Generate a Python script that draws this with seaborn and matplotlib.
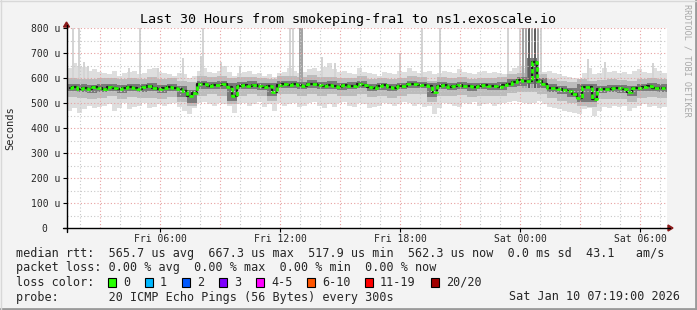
import numpy as np
import pandas as pd
import matplotlib
matplotlib.use("Agg")
import matplotlib.pyplot as plt
import seaborn as sns
from matplotlib.patches import Rectangle, Polygon
from matplotlib.lines import Line2D
from matplotlib.ticker import FixedLocator

# ---------------- data ----------------
title = "Last 30 Hours from smokeping-fra1 to ns1.exoscale.io"
start_hour = 1.35          # Fri 01:21 (hours since Fri 00:00)
span_hours = 30
step_fine = 0.25           # 15 min
step_coarse = 0.5          # 30 min

median_us = [
    562, 566, 558, 560, 555, 563, 560,
    558, 565, 562, 556, 560, 566, 562,
    558, 563, 568, 560, 556, 562,
    566, 560, 558, 548, 530,
    540, 578, 575, 570, 574,
    572, 575, 566, 528, 568,
    572, 570, 574, 568, 565,
    570, 545, 572, 575, 574,
    576, 572, 570, 575, 578,
    572, 568, 574, 570, 566,
    572, 570, 568, 576, 572,
    566, 562, 568, 572, 566,
    562, 570, 568, 578, 576,
    572, 574, 570, 545, 568,
    572, 566, 570, 574, 570,
    568, 566, 570, 572, 568,
    570, 566, 572, 576, 585,
    592, 588, 590, 665, 590,
    575, 560, 562, 556, 552,
    550, 538, 522, 566, 565,
    518, 556, 555, 558, 560,
    562, 558, 545, 560, 562,
    565, 568, 562, 560, 562,
]

smoke_max = [
    640, 660, 650, 645, 630, 635, 625,
    620, 615, 630, 610, 620, 625, 630,
    615, 620, 635, 640, 625, 620,
    615, 610, 620, 615, 600,
    610, 630, 640, 625, 620,
    630, 650, 625, 610, 620,
    625, 630, 615, 620, 610,
    615, 605, 620, 625, 640,
    630, 620, 625, 635, 640,
    630, 645, 660, 635, 625,
    630, 620, 615, 640, 625,
    620, 615, 610, 625, 620,
    615, 630, 625, 640, 630,
    620, 625, 630, 615, 620,
    630, 625, 620, 635, 625,
    620, 615, 625, 630, 620,
    625, 620, 615, 630, 640,
    650, 640, 645, 660, 640,
    625, 630, 620, 615, 610,
    605, 600, 595, 620, 640,
    615, 620, 640, 625, 630,
    620, 625, 615, 630, 635,
    625, 620, 640, 630, 620,
]

smoke_min = [
    470, 480, 460, 475, 490, 480, 485,
    490, 495, 470, 480, 500, 475, 485,
    490, 500, 480, 485, 495, 490,
    495, 500, 485, 470, 455,
    480, 500, 505, 495, 490,
    500, 495, 490, 460, 495,
    500, 490, 495, 505, 485,
    495, 470, 500, 490, 495,
    500, 485, 490, 500, 505,
    490, 480, 495, 485, 500,
    505, 490, 485, 500, 495,
    480, 485, 490, 500, 495,
    490, 495, 505, 500, 490,
    495, 485, 490, 455, 480,
    500, 495, 490, 485, 500,
    495, 505, 490, 495, 500,
    490, 495, 500, 505, 510,
    505, 500, 495, 500, 510,
    495, 485, 480, 475, 470,
    465, 460, 455, 475, 480,
    450, 470, 485, 480, 490,
    485, 490, 470, 480, 490,
    495, 485, 490, 480, 485,
]

mid_lo = [
    525, 520, 518, 522, 528, 515, 525, 520, 522, 515, 525, 505,
    490, 530, 535, 530, 495, 530, 535, 528, 510, 535, 535, 530, 538, 530, 535, 528, 530, 535,
    525, 528, 522, 530, 535, 535, 505, 530, 528, 532, 525, 530, 528, 530, 540, 545, 545, 535,
    520, 510, 500, 490, 485, 515, 518, 515, 505, 520, 525, 520,
]
mid_hi = [
    600, 598, 595, 600, 602, 595, 600, 598, 605, 596, 600, 590,
    585, 610, 605, 608, 600, 605, 606, 600, 595, 608, 610, 605, 612, 605, 606, 600, 602, 610,
    598, 600, 598, 602, 610, 606, 590, 604, 600, 606, 598, 602, 600, 604, 615, 620, 640, 615,
    595, 590, 585, 595, 590, 592, 595, 594, 590, 598, 600, 596,
]
dark_lo = [
    548, 545, 542, 545, 550, 540, 550, 545, 548, 540, 548, 525,
    500, 555, 558, 558, 510, 555, 558, 552, 530, 560, 560, 556, 562, 555, 558, 552, 555, 560,
    550, 552, 548, 555, 560, 560, 525, 555, 552, 558, 550, 555, 552, 553, 565, 570, 575, 560,
    545, 535, 525, 505, 505, 540, 545, 542, 530, 548, 550, 546,
]
dark_hi = [
    578, 575, 572, 575, 578, 572, 578, 575, 580, 572, 578, 568,
    552, 590, 585, 588, 580, 585, 588, 582, 580, 588, 590, 585, 592, 586, 588, 582, 584, 590,
    578, 580, 578, 582, 590, 586, 580, 584, 582, 586, 580, 582, 580, 584, 595, 605, 680, 600,
    575, 570, 560, 578, 575, 570, 572, 574, 570, 578, 580, 575,
]

spike_hour = [1.65, 1.95, 2.2, 2.4, 4.45, 5.0, 5.9, 7.15, 8.05, 8.15, 9.05, 10.0,
              12.5, 12.65, 13.0, 13.1, 14.1, 14.75, 18.0, 19.1, 20.0, 23.4,
              24.0, 24.15, 24.3, 24.45, 24.6, 24.75, 24.9, 25.05,
              27.4, 28.25, 30.65]
spike_top = [800, 800, 665, 650, 640, 800, 640, 680, 690, 800, 665, 650,
             800, 800, 800, 800, 685, 660, 700, 800, 800, 800,
             800, 800, 800, 800, 800, 800, 800, 800,
             675, 665, 660]
spike_shade = ["l", "l", "l", "l", "l", "l", "l", "l", "l", "l", "l", "l",
               "l", "l", "m", "m", "l", "l", "l", "l", "l", "l",
               "l", "m", "m", "d", "m", "d", "m", "l",
               "l", "l", "l"]

y_major = [0, 100, 200, 300, 400, 500, 600, 700, 800]
y_labels = ["0  ", "100 u", "200 u", "300 u", "400 u", "500 u", "600 u", "700 u", "800 u"]
x_label_hours = [6, 12, 18, 24, 30]
x_labels = ["Fri 06:00", "Fri 12:00", "Fri 18:00", "Sat 00:00", "Sat 06:00"]

loss_labels = ["0", "1", "2", "3", "4-5", "6-10", "11-19", "20/20"]
loss_colors = ["#26ff00", "#00b8ff", "#0059ff", "#7e00ff", "#ff00ff", "#ff5500", "#ff0000", "#a10000"]

legend_rtt = "median rtt:  565.7 us avg  667.3 us max  517.9 us min  562.3 us now  0.0 ms sd  43.1   am/s"
legend_loss = "packet loss: 0.00 % avg  0.00 % max  0.00 % min  0.00 % now"
legend_probe = "probe:       20 ICMP Echo Pings (56 Bytes) every 300s"
stamp = "Sat Jan 10 07:19:00 2026"

# ---------------- figure ----------------
sns.set_theme(style="white")
plt.rcParams['font.family'] = ['DejaVu Sans Mono', 'DejaVu Sans']

W, H = 697, 310
fig = plt.figure(figsize=(W / 100, H / 100), dpi=100)
fig.patch.set_facecolor("#f3f3f3")

def fx(x):
    return x / W

def fy(y):
    return 1 - y / H

L, R, T, B = 67, 667, 28, 228
ax = fig.add_axes([fx(L), fy(B), (R - L) / W, (B - T) / H])
ax.set_facecolor("white")

n_f = len(median_us)
n_c = len(mid_lo)
edges_f = start_hour + np.arange(n_f + 1) * step_fine
edges_c = start_hour + np.arange(n_c + 1) * step_coarse
t_f = start_hour + (np.arange(n_f) + 0.5) * step_fine

ax.stairs(smoke_max, edges_f, baseline=smoke_min, fill=True, color="#dedede", zorder=2, lw=0)
shade_col = {"l": "#d4d4d4", "m": "#a4a4a4", "d": "#5e5e5e"}
shade_z = {"l": 2.5, "m": 3.5, "d": 4.5}
for h, top, s in zip(spike_hour, spike_top, spike_shade):
    ax.bar(h, top - 560, bottom=560, width=0.09, color=shade_col[s], zorder=shade_z[s], lw=0)
ax.stairs(mid_hi, edges_c, baseline=mid_lo, fill=True, color="#bcbcbc", zorder=3, lw=0)
ax.stairs(dark_hi, edges_c, baseline=dark_lo, fill=True, color="#7a7a7a", zorder=4, lw=0)

df = pd.DataFrame({"t": t_f, "median": median_us})
sns.lineplot(data=df, x="t", y="median", ax=ax, color="#1c1c1c", lw=1.6,
             drawstyle="steps-mid", zorder=5)
sns.lineplot(data=df, x="t", y="median", ax=ax, color="#26ff00", lw=2.0,
             drawstyle="steps-mid", zorder=5.5, dashes=False)
ax.lines[-1].set_linestyle((0, (1.6, 0.9)))

ax.set_xlim(start_hour, start_hour + span_hours)
ax.set_ylim(0, 800)
ax.set_xlabel("")
ax.set_ylabel("")

# grid
first_h = int(np.ceil(start_hour))
hours = np.arange(first_h, start_hour + span_hours + 0.01, 1)
for h in hours:
    col = "#e8a0a0" if h % 3 == 0 else "#c8c8c8"
    ax.axvline(h, color=col, lw=0.8, ls=(0, (1, 2)), zorder=6)
for v in range(50, 801, 50):
    col = "#e8a0a0" if v % 100 == 0 else "#c8c8c8"
    ax.axhline(v, color=col, lw=0.8, ls=(0, (1, 2)), zorder=6)

ax.yaxis.set_major_locator(FixedLocator(y_major))
ax.set_yticklabels(y_labels)
ax.xaxis.set_major_locator(FixedLocator(x_label_hours))
ax.set_xticklabels(x_labels)
ax.tick_params(axis="both", which="major", labelsize=7, length=3, width=0.8,
               color="black", direction="out", pad=2, left=True, bottom=True)
ax.tick_params(axis="x", pad=1.5)

for s in ["top", "right", "left", "bottom"]:
    ax.spines[s].set_visible(False)

# axis lines with arrows (figure pixel coordinates)
fig.add_artist(Line2D([fx(L - 0.5), fx(L - 0.5)], [fy(B + 4), fy(T - 3)], color="black", lw=1))
fig.add_artist(Line2D([fx(L - 4), fx(R + 3)], [fy(B), fy(B)], color="black", lw=1))
fig.add_artist(Polygon([[fx(L - 3.5), fy(T - 1)], [fx(L + 2.5), fy(T - 1)], [fx(L - 0.5), fy(T - 6)]],
                       closed=True, color="#8b1a1a", transform=fig.transFigure))
fig.add_artist(Polygon([[fx(R + 1), fy(B - 3)], [fx(R + 1), fy(B + 3)], [fx(R + 6), fy(B)]],
                       closed=True, color="#8b1a1a", transform=fig.transFigure))

# texts
fig.text(fx(348), fy(19), title, ha="center", va="center", fontsize=9.6, color="black")
fig.text(fx(10), fy(128), "Seconds", ha="center", va="center", rotation=90, fontsize=7.5)
fig.text(fx(687), fy(60), "RRDTOOL / TOBI OETIKER", ha="center", va="center", rotation=270,
         fontsize=6.1, color="#a8a8a8")

fs = 8.5
fig.text(fx(16), fy(253), legend_rtt, ha="left", va="center", fontsize=fs)
fig.text(fx(16), fy(268), legend_loss, ha="left", va="center", fontsize=fs)
fig.text(fx(16), fy(282), "loss color:", ha="left", va="center", fontsize=fs)
box_x = [108, 145, 182, 219, 256, 307, 365, 431]
for bx, lab, col in zip(box_x, loss_labels, loss_colors):
    fig.add_artist(Rectangle((fx(bx), fy(286.5)), 8 / W, 9 / H, facecolor=col,
                             edgecolor="black", lw=0.8, transform=fig.transFigure))
    fig.text(fx(bx + 15), fy(282), lab, ha="left", va="center", fontsize=fs)
fig.text(fx(16), fy(297), legend_probe, ha="left", va="center", fontsize=fs)
fig.text(fx(680), fy(297), stamp, ha="right", va="center", fontsize=fs)

# frame
fig.add_artist(Line2D([0, 1], [fy(309), fy(309)], color="#9a9a9a", lw=2))
fig.add_artist(Line2D([fx(696), fx(696)], [0, 1], color="#9a9a9a", lw=2))
fig.add_artist(Line2D([0, 1], [fy(0.5), fy(0.5)], color="#d8d8d8", lw=1))
fig.add_artist(Line2D([fx(0.5), fx(0.5)], [0, 1], color="#d8d8d8", lw=1))

fig.savefig("out.png", dpi=100, facecolor=fig.get_facecolor())
